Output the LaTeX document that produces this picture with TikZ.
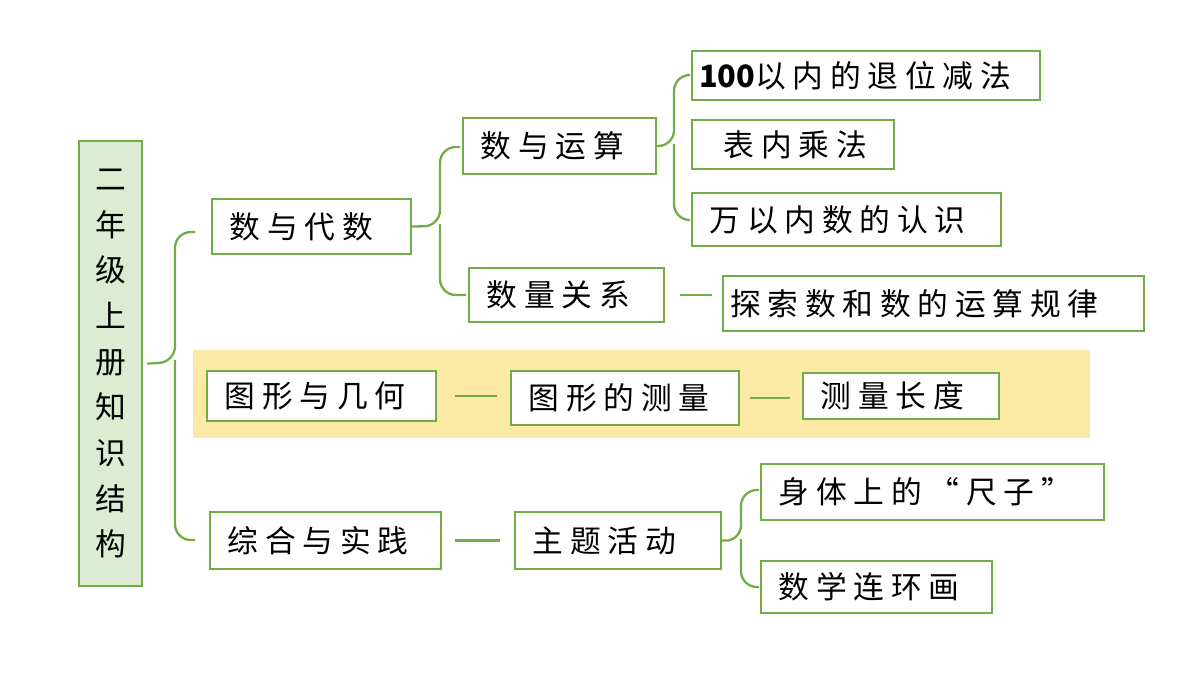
\documentclass[tikz,border=0pt]{standalone}
\usepackage{fontspec}
\usetikzlibrary{calc}
\setmainfont{Noto Sans CJK SC}
\begin{document}
\begin{tikzpicture}[x=0.02cm,y=-0.02cm,
 box/.style={draw=gr,line width=1.3pt,fill=white,inner ysep=0pt,inner xsep=10pt,anchor=north west,font=\fontsize{17.5}{20}\selectfont\addfontfeature{LetterSpace=22},align=left},
 ln/.style={draw=gr,line width=1.3pt},
 br/.style={draw=gr,line width=1.3pt,rounded corners=9pt}]
\definecolor{gr}{HTML}{70AD47}
\definecolor{tf}{HTML}{DDEBD3}
\definecolor{yb}{HTML}{FDE9A6}
\useasboundingbox (0,0) rectangle (1200,675);
\fill[yb] (193,350) rectangle (1090,438);
\newcommand{\bx}[6]{\node[box,text width=#4*0.02cm-21.3pt,minimum height=#5*0.02cm-1.3pt] (#1) at (#2,#3) {#6};}
\node[draw=gr,line width=1.3pt,fill=tf,minimum width=63*0.02cm,minimum height=445*0.02cm,anchor=north west,inner sep=0pt,font=\fontsize{17.5}{20}\selectfont,align=center] (t) at (78,140) {二\\[6pt]年\\[6pt]级\\[6pt]上\\[6pt]册\\[6pt]知\\[6pt]识\\[6pt]结\\[6pt]构};
\bx{a}{211}{198}{201}{57}{数与代数}
\bx{b}{462}{117}{195}{58}{数与运算}
\bx{c}{691}{50}{350}{51}{\hspace{-6pt}\textbf{\addfontfeature{LetterSpace=0}100}以内的退位减法}
\bx{d}{691}{119}{204}{51}{\hspace{8pt}表内乘法}
\bx{e}{691}{192}{311}{55}{万以内数的认识}
\bx{f}{468}{267}{197}{56}{数量关系}
\bx{g}{722}{275}{423}{57}{\hspace{-6pt}探索数和数的运算规律}
\bx{h}{206}{370}{231}{52}{图形与几何}
\bx{i}{510}{370}{230}{56}{图形的测量}
\bx{j}{802}{372}{198}{48}{测量长度}
\bx{k}{209}{511}{233}{59}{综合与实践}
\bx{l}{514}{511}{208}{59}{主题活动}
\bx{m}{760}{463}{345}{58}{身体上的“尺子”}
\bx{n}{760}{560}{233}{54}{数学连环画}
% braces
\draw[br] ($(t.east)+(4,0)$) -- (175,362) -- (175,232) -- (195,232);
\draw[br] (175,360) -- (175,540) -- (195,540);
\draw[br] (a.east) -- (440,226) -- (440,147) -- (460,147);
\draw[br] (440,224) -- (440,295) -- (466,295);
\draw[br] (b.east) -- (674,146) -- (674,75) -- (690,75);
\draw[br] (674,144) -- (674,220) -- (690,220);
\draw[br] (l.east) -- (741,541) -- (741,490) -- (759,490);
\draw[br] (741,539) -- (741,587) -- (759,587);
% dashes
\draw[ln] ($(f.east)+(15,0)$) -- ($(g.west|-f.east)+(-10,0)$);
\draw[ln] ($(h.east)+(18,0)$) -- ($(i.west|-h.east)+(-13,0)$);
\draw[ln] ($(i.east)+(10,0)$) -- ($(j.west|-i.east)+(-12,0)$);
\draw[ln] ($(k.east)+(13,0)$) -- ($(l.west|-k.east)+(-14,0)$);
\end{tikzpicture}
\end{document}
